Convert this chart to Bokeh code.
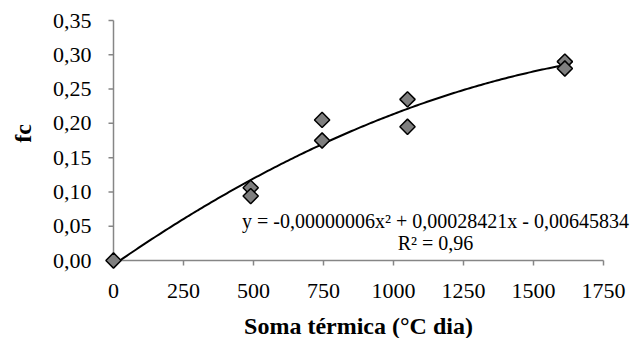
import numpy as np
from bokeh.plotting import figure
from bokeh.models import Label, Range1d, ColumnDataSource
from bokeh.embed import file_html
from bokeh.resources import INLINE

soma_termica = [0, 490, 490, 745, 745, 1050, 1050, 1612, 1612]
fc = [0.0, 0.106, 0.094, 0.205, 0.175, 0.235, 0.195, 0.290, 0.280]
x_ticks = [0, 250, 500, 750, 1000, 1250, 1500, 1750]
y_ticks = [0.0, 0.05, 0.10, 0.15, 0.20, 0.25, 0.30, 0.35]
x_tick_labels = ["0", "250", "500", "750", "1000", "1250", "1500", "1750"]
y_tick_labels = ["0,00", "0,05", "0,10", "0,15", "0,20", "0,25", "0,30", "0,35"]
x_title = "Soma térmica (°C dia)"
y_title = "fc"
equation = "y = -0,00000006x\u00b2 + 0,00028421x - 0,00645834"
r2_text = "R\u00b2 = 0,96"

FONT = "'Liberation Serif'"
AXIS_COLOR = "#868686"

W, H = 635, 338
ORIGIN_PX = (113, 260)          # pixel position of the data origin
PX_PER_X = 0.28                 # pixels per unit of x
PX_PER_Y = 240 / 0.35           # pixels per unit of y
X0 = -ORIGIN_PX[0] / PX_PER_X
X1 = X0 + W / PX_PER_X
Y0 = -(H - ORIGIN_PX[1]) / PX_PER_Y
Y1 = Y0 + H / PX_PER_Y
tick_len = 5

def dx(px):
    return px / PX_PER_X

def dy(px):
    return px / PX_PER_Y

def add_text(x, y, text, size, align="center", bold=False, angle=0.0):
    p.add_layout(Label(x=x, y=y, text=text, text_font=FONT, text_font_size=size,
                       text_font_style="bold" if bold else "normal", text_align=align,
                       text_baseline="middle", text_color="black", angle=angle))

p = figure(width=W, height=H, output_backend="svg", toolbar_location=None,
           x_range=Range1d(X0, X1), y_range=Range1d(Y0, Y1),
           min_border=0)
p.outline_line_color = None
p.grid.visible = False
p.axis.visible = False
p.background_fill_color = "white"

# axis lines and ticks
p.segment(x0=[0, 0], y0=[0, 0], x1=[0, x_ticks[-1]], y1=[y_ticks[-1], 0],
          line_color=AXIS_COLOR, line_width=1.5)
p.segment(x0=[-dx(tick_len)] * len(y_ticks), y0=y_ticks, x1=[0] * len(y_ticks), y1=y_ticks,
          line_color=AXIS_COLOR, line_width=1.5)
p.segment(x0=x_ticks, y0=[0] * len(x_ticks), x1=x_ticks, y1=[-dy(tick_len)] * len(x_ticks),
          line_color=AXIS_COLOR, line_width=1.5)

# tick labels
for yt, lab in zip(y_ticks, y_tick_labels):
    add_text(-dx(22), yt, lab, "22px", align="right")
for xt, lab in zip(x_ticks, x_tick_labels):
    add_text(xt, -dy(30.5), lab, "22px")

# axis titles
add_text(x_ticks[-1] / 2, -dy(65), x_title, "24px", bold=True)
add_text(-dx(90.5), dy(127), y_title, "24px", bold=True, angle=np.pi / 2)

# trend line (2nd order polynomial fit of the data)
coef = np.polyfit(soma_termica, fc, 2)
xs = np.linspace(0, max(soma_termica), 200)
p.line(xs, np.polyval(coef, xs), line_color="black", line_width=2)

src = ColumnDataSource(dict(x=soma_termica, y=fc))
p.scatter("x", "y", source=src, marker="square", angle=np.pi / 4, size=10.8,
          fill_color="#7f7f7f", line_color="black", line_width=1.5)

add_text(1150, 0.058, equation, "20px")
add_text(1150, 0.026, r2_text, "20px")

open("out.html", "w").write(file_html(p, INLINE))
